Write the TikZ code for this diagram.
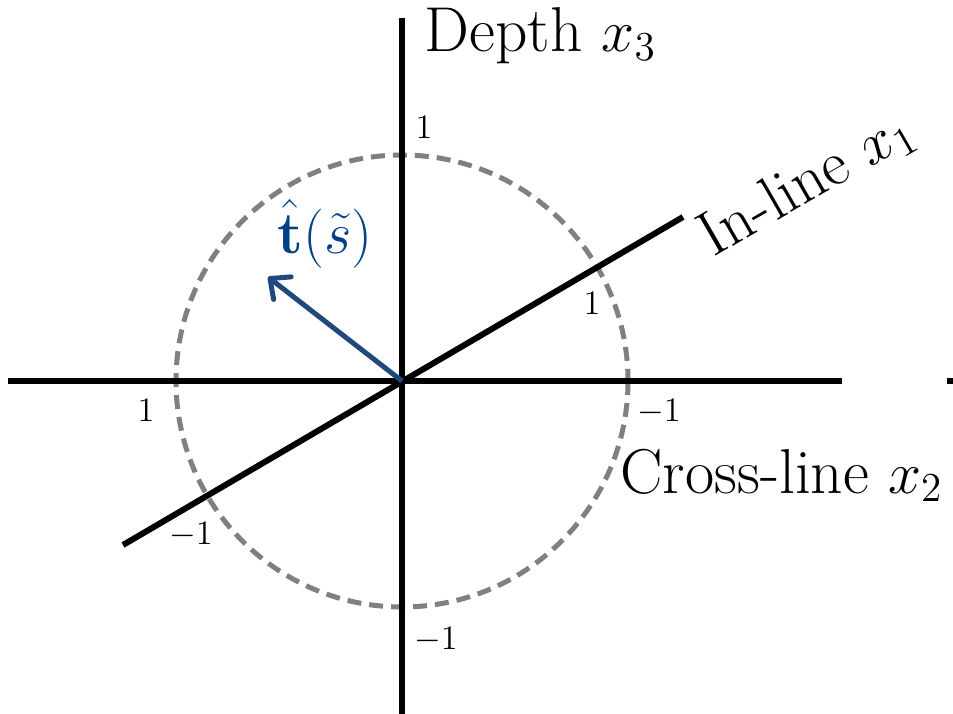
\documentclass[tikz,border=0pt]{standalone}
\usetikzlibrary{arrows.meta}
\definecolor{circgray}{RGB}{128,128,128}
\definecolor{arrowblue}{RGB}{31,73,125}
\definecolor{labelblue}{RGB}{0,64,138}
\begin{document}
\begin{tikzpicture}[x=0.35pt,y=-0.35pt,
  axis/.style={line width=2.1pt,black},
  unitcirc/.style={line width=1.75pt,circgray,dash pattern=on 4.9pt off 2.8pt},
  bigtxt/.style={inner sep=0pt,font=\fontsize{22.2}{26}\selectfont},
  bluetxt/.style={inner sep=0pt,font=\fontsize{20.3}{24}\selectfont,text=labelblue},
  smalltxt/.style={inner sep=0pt,font=\fontsize{12.8}{15}\selectfont},
  vec/.style={line width=1.75pt,arrowblue,-{Straight Barb[length=5.5pt,width=10pt,line cap=round,line join=round]}}]
\useasboundingbox (0,0) rectangle (953,714);
\coordinate (O) at (402,381);
\coordinate (top) at (402,18);
\coordinate (bot) at (402,714);
\coordinate (left) at (8,381);
\coordinate (right) at (842,381);
\coordinate (ticka) at (947,381);
\coordinate (tickb) at (953,381);
\coordinate (ilo) at (123,545);
\coordinate (ihi) at (683,217);
\coordinate (tip) at (268,277);
% unit circle
\draw[unitcirc] (O) circle[radius=226];
% axes
\draw[axis] (top) -- (bot);
\draw[axis] (left) -- (right);
\draw[axis] (ticka) -- (tickb);
\draw[axis] (ilo) -- (ihi);
% vector
\draw[vec] (O) -- (tip);
% labels
\node[bigtxt,anchor=base west] (depth) at (424,52) {Depth $x_3$};
\node[bigtxt,anchor=base west] (cross) at (620,493) {Cross-line $x_2$};
\node[bigtxt,anchor=base west,rotate=30] (inline) at (713,258) {In-line $x_1$};
\node[bluetxt,anchor=base west] (tlab) at (277,253) {$\hat{\mathbf{t}}(\tilde{s})$};
\node[smalltxt] (u3p) at (424,127) {$1$};
\node[smalltxt] (u1p) at (592,303) {$1$};
\node[smalltxt] (u2p) at (146,410) {$1$};
\node[smalltxt] (u2m) at (659,412) {$-1$};
\node[smalltxt] (u1m) at (191,535) {$-1$};
\node[smalltxt] (u3m) at (436,640) {$-1$};
\end{tikzpicture}
\end{document}
